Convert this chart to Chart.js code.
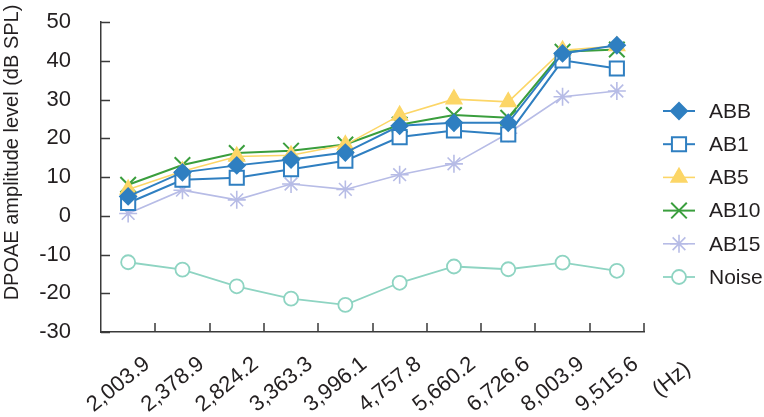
<!DOCTYPE html>
<html><head><meta charset="utf-8">
<script src="https://cdn.jsdelivr.net/npm/chart.js@4/dist/chart.umd.min.js"></script>
<style>html,body{margin:0;padding:0;background:#fff}#wrap{width:764px;height:417px}</style>
</head><body><div id="wrap"><canvas id="c" width="764" height="417"></canvas></div>
<script>
const categories = ['2,003.9','2,378.9','2,824.2','3,363.3','3,996.1','4,757.8','5,660.2','6,726.6','8,003.9','9,515.6'];
const ABB  = [5.0, 11.2, 13.0, 14.5, 16.3, 23.2, 24.0, 24.0, 41.9, 44.0];
const AB1  = [3.3, 9.3, 9.8, 12.0, 14.2, 20.3, 22.0, 21.0, 40.1, 38.0];
const AB5  = [6.8, 11.5, 15.3, 15.6, 18.3, 25.9, 30.1, 29.4, 42.7, 43.8];
const AB10 = [8.0, 13.1, 16.2, 16.8, 18.4, 23.5, 26.0, 25.3, 42.3, 42.9];
const AB15 = [0.6, 6.6, 4.1, 8.2, 6.8, 10.6, 13.4, 21.3, 30.7, 32.2];
const Noise = [-12.0, -13.9, -18.2, -21.4, -23.0, -17.3, -13.1, -13.8, -12.1, -14.2];
const yTicks = [-30, -20, -10, 0, 10, 20, 30, 40, 50];
const yTitle = 'DPOAE amplitude level (dB SPL)';
const xUnit = '(Hz)';

const FONT = "'Liberation Sans', Arial, sans-serif";
const TXT = '#231f20';
const AXIS = '#3a3a3a';
const ROT = -39 * Math.PI / 180;

function ds(label, data, color, style, radius, fill, width) {
  return {label, data, borderColor: color, backgroundColor: color,
    pointStyle: style, pointRadius: radius, pointHoverRadius: radius,
    pointBackgroundColor: fill, pointBorderColor: color, pointBorderWidth: width,
    borderWidth: width, tension: 0, fill: false};
}
const datasets = [
  ds('ABB', ABB, '#2f7fc1', 'rectRot', 8, '#2f7fc1', 2),
  ds('AB1', AB1, '#2f7fc1', 'rect', 10, '#ffffff', 2),
  ds('AB5', AB5, '#fcd667', 'triangle', 9, '#fcd667', 1.6),
  ds('AB10', AB10, '#3a9e3d', 'crossRot', 11, '#3a9e3d', 2),
  ds('AB15', AB15, '#b7bce6', 'star', 9, '#b7bce6', 1.6),
  ds('Noise', Noise, '#8ed4c2', 'circle', 7, '#ffffff', 1.8),
];

const extras = {
  id: 'extras',
  afterDraw(chart) {
    const ctx = chart.ctx, ca = chart.chartArea;
    const ys = chart.scales.y, xs = chart.scales.x;
    ctx.save();
    ctx.strokeStyle = AXIS; ctx.lineWidth = 1.5;
    ctx.beginPath();
    yTicks.forEach(v => { const p = Math.round(ys.getPixelForValue(v)) + 0.5; ctx.moveTo(ca.left, p); ctx.lineTo(ca.left + 9, p); });
    const n = categories.length, w = (ca.right - ca.left) / n;
    for (let k = 1; k <= n; k++) { const p = Math.round(ca.left + k * w); ctx.moveTo(p, ca.bottom); ctx.lineTo(p, ca.bottom - 9); }
    ctx.stroke();
    ctx.fillStyle = TXT;
    // x tick labels (rotated)
    ctx.font = '22px ' + FONT; ctx.textAlign = 'right'; ctx.textBaseline = 'top';
    categories.forEach((c, i) => {
      const px = xs.getPixelForValue(i);
      ctx.save(); ctx.translate(px + 12, ca.bottom + 21); ctx.rotate(ROT); ctx.fillText(c, 0, 0); ctx.restore();
    });
    ctx.save(); ctx.translate(681, 358); ctx.rotate(ROT); ctx.fillText(xUnit, 0, 0); ctx.restore();
    // y title
    ctx.font = '20px ' + FONT; ctx.textAlign = 'center'; ctx.textBaseline = 'alphabetic';
    ctx.save(); ctx.translate(17.5, 152.5); ctx.rotate(-Math.PI / 2); ctx.fillText(yTitle, 0, 0); ctx.restore();
    // legend
    const ly0 = 111, dy = 33.2, lx1 = 663, lx2 = 695;
    chart.data.datasets.forEach((d, i) => {
      const y = ly0 + i * dy;
      ctx.strokeStyle = d.borderColor; ctx.lineWidth = d.borderWidth;
      ctx.beginPath(); ctx.moveTo(lx1, y); ctx.lineTo(lx2, y); ctx.stroke();
      ctx.fillStyle = d.pointBackgroundColor; ctx.strokeStyle = d.pointBorderColor; ctx.lineWidth = d.pointBorderWidth;
      Chart.helpers.drawPoint(ctx, {pointStyle: d.pointStyle, radius: d.pointRadius, rotation: 0, borderWidth: d.pointBorderWidth}, (lx1 + lx2) / 2, y);
      ctx.fillStyle = TXT; ctx.font = '21px ' + FONT; ctx.textAlign = 'left'; ctx.textBaseline = 'middle';
      ctx.fillText(d.label, 709, y + 1);
    });
    ctx.restore();
  }
};

new Chart(document.getElementById('c'), {
  type: 'line',
  data: {labels: categories, datasets},
  options: {
    responsive: false, animation: false, devicePixelRatio: 1,
    layout: {padding: {top: 22, right: 120, left: 0, bottom: 0}},
    plugins: {legend: {display: false}, tooltip: {enabled: false}},
    scales: {
      x: {
        offset: true,
        grid: {display: false, offset: true},
        border: {display: true, color: AXIS, width: 1.5},
        ticks: {display: false},
        afterFit(s) { s.height = 85; s.paddingLeft = 0; s.paddingRight = 0; }
      },
      y: {
        min: -30, max: 50,
        grid: {display: false},
        border: {display: true, color: AXIS, width: 1.5},
        ticks: {stepSize: 10, color: TXT, font: {size: 22, family: FONT}, padding: 22},
        afterFit(s) { s.width = 101; s.paddingTop = 0; s.paddingBottom = 0; }
      }
    }
  },
  plugins: [extras]
});
</script></body></html>
